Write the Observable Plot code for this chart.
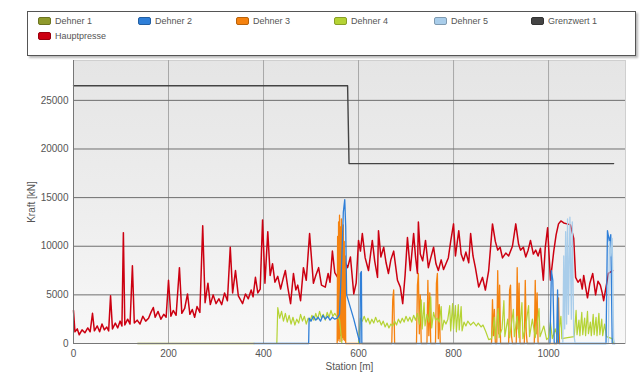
<!DOCTYPE html>
<html><head><meta charset="utf-8">
<script src="https://cdn.jsdelivr.net/npm/d3@7"></script>
<script src="https://cdn.jsdelivr.net/npm/@observablehq/plot@0.6"></script>
<style>
body{margin:0;background:#fff;font-family:"Liberation Sans",Arial,sans-serif;}
#wrap{position:relative;width:641px;height:379px;overflow:hidden;}
#legend{position:absolute;left:27px;top:11px;width:607px;height:43px;border:1.5px solid #555;box-shadow:2px 2px 2px #bbb;background:#fff;}
.item{position:absolute;display:flex;align-items:center;font-size:9px;color:#555;white-space:nowrap;}
.sw{width:13px;height:8px;border-radius:2px;margin-right:4px;box-sizing:border-box;}
#chart{position:absolute;left:0;top:58px;}
</style></head>
<body><div id="wrap"><div id="legend"></div><div id="chart"></div></div>
<script>
// ---- data ----
const seriesNames = ["Dehner 1","Dehner 2","Dehner 3","Dehner 4","Dehner 5","Grenzwert 1","Hauptpresse"];
const seriesColors = ["#8f9a2c","#2f7fd8","#f5820f","#b5d334","#a9cdea","#444444","#cc0011"];
const xTicks = [0,200,400,600,800,1000];
const yTicks = [0,5000,10000,15000,20000,25000];

const hauptpresse = [[0,3400],[3,1200],[8,1500],[12,900],[18,1400],[24,1100],[30,1600],[35,1200],[40,3100],[44,1300],[50,1800],[55,1200],[60,2000],[65,1400],[70,1700],[74,1300],[78,4900],[82,1500],[88,2100],[93,1600],[98,2300],[102,1800],[105,11400],[108,1900],[114,2500],[119,2000],[124,8000],[128,2100],[134,2400],[140,2000],[146,2800],[152,2300],[158,2600],[163,3200],[168,3700],[172,2700],[178,3300],[184,2500],[190,3000],[195,2700],[200,6500],[205,2800],[210,3400],[216,2900],[223,7800],[228,3100],[234,3600],[240,5100],[245,3000],[250,3500],[255,2700],[260,3800],[266,3200],[272,12100],[277,4200],[283,6200],[288,4000],[294,5000],[300,4100],[306,4600],[312,4000],[318,5200],[324,4400],[330,9900],[335,5200],[341,7500],[347,4900],[356,4100],[362,5100],[368,4600],[374,5500],[378,4800],[383,6800],[388,5200],[393,5600],[398,12700],[403,6200],[409,11500],[414,7000],[419,8200],[424,6300],[430,6900],[436,5600],[441,6600],[446,7500],[451,5800],[457,4100],[463,7200],[468,5500],[472,6000],[478,4400],[484,7800],[490,6500],[497,11300],[505,6200],[510,7000],[516,7800],[522,6000],[530,5800],[536,7200],[540,6300],[545,9500],[550,7300],[556,6800],[561,8200],[566,10300],[571,8400],[577,7800],[583,8900],[590,5100],[595,6200],[600,10600],[604,9500],[608,11300],[614,8800],[621,7500],[629,10600],[634,8500],[640,6800],[642,11600],[647,8900],[653,9900],[658,8300],[663,7200],[668,8600],[674,9500],[682,6500],[688,5800],[693,4100],[698,7000],[703,10900],[709,7500],[716,11300],[720,8900],[724,7200],[726,12500],[730,9200],[735,8500],[741,10600],[747,7800],[752,8800],[758,9900],[763,8200],[768,7500],[774,8600],[779,7600],[784,8200],[789,8800],[794,10500],[800,12300],[804,9000],[811,11600],[816,9200],[821,8500],[826,9400],[832,8300],[836,11300],[841,9000],[846,7800],[853,5800],[861,6800],[867,5500],[874,7500],[882,12300],[888,10500],[893,9600],[898,9900],[903,8800],[910,9300],[916,9000],[924,10000],[931,12300],[937,10200],[941,9600],[947,9900],[952,8900],[957,9600],[962,10600],[968,9200],[973,9600],[978,9000],[983,9800],[989,6500],[993,9800],[998,11900],[1004,6500],[1011,9500],[1016,11200],[1021,12300],[1026,12600],[1032,12400],[1039,12300],[1046,12200],[1053,10800],[1057,6800],[1062,6300],[1067,6600],[1071,5600],[1074,7000],[1078,5800],[1082,4700],[1087,6200],[1093,7200],[1099,5000],[1104,6400],[1109,6000],[1113,5200],[1116,4400],[1121,5800],[1126,7200],[1135,7500]];

const grenzwert1 = [[0,26500],[577,26500],[580,18500],[1137,18500]];

const dehner1 = [[135,0],[380,0]];

const dehner2 = [[380,0],[495,0],[496,2600],[500,2300],[505,2800],[510,2400],[515,2700],[520,2300],[525,2900],[530,2500],[535,2800],[540,2400],[545,2700],[550,2500],[555,2600],[560,3000],[565,9000],[568,13500],[571,14800],[573,12000],[575,5000],[590,2500],[603,0],[604,7200],[606,7400],[607,0],[1003,0],[1006,7500],[1009,6500],[1012,0],[1017,0],[1019,5500],[1021,0],[1121,0],[1124,11600],[1128,10500],[1131,11200],[1134,0],[1140,0]];

const dehner3 = [[555,0],[556,11000],[557,300],[558,12500],[559,500],[560,13200],[561,200],[562,12000],[563,800],[564,12800],[565,300],[566,11500],[567,600],[568,12200],[569,400],[570,10500],[571,300],[572,9000],[573,0],[670,0],[672,4500],[674,5500],[676,0],[722,0],[724,6000],[726,7200],[728,1000],[730,5000],[732,0],[744,0],[746,6500],[748,800],[750,5200],[752,0],[762,0],[764,6200],[766,7200],[768,500],[770,4000],[772,0],[880,0],[882,4500],[884,800],[886,3500],[888,0],[891,0],[893,7500],[895,1000],[897,6000],[899,0],[916,0],[918,5500],[920,6000],[922,800],[924,0],[932,0],[934,7800],[936,1500],[938,6200],[940,0],[949,0],[951,6500],[953,1200],[955,0],[970,0],[972,6500],[974,1000],[976,5200],[978,0],[1019,0],[1021,4700],[1023,0]];

const dehner4 = [[428,0],[430,3700],[434,2600],[438,3300],[442,2300],[446,3100],[450,2200],[454,2900],[458,2000],[462,2700],[466,1900],[470,2500],[474,2100],[478,3000],[482,2300],[486,2800],[490,2000],[494,2600],[498,2300],[502,2900],[506,2400],[510,3100],[514,2500],[518,3300],[522,2600],[526,3000],[530,2400],[534,3200],[538,2700],[542,3400],[546,2800],[550,3100],[555,2700],[560,2500],[565,0],[600,0],[604,2600],[608,2300],[612,2800],[616,2200],[620,2600],[624,2000],[628,2500],[632,2100],[636,2700],[640,2200],[644,2400],[648,1900],[652,2300],[656,1700],[660,2100],[664,1600],[668,2000],[672,1800],[676,2300],[680,1900],[684,2500],[688,2100],[692,2600],[696,2200],[700,2800],[704,2300],[708,2700],[712,2200],[716,2900],[720,2400],[724,3100],[728,2000],[732,4500],[734,1500],[738,4200],[740,1800],[744,3000],[748,2200],[752,4800],[754,1600],[758,3200],[762,2400],[766,2600],[770,2200],[774,3800],[776,1400],[780,2400],[784,2000],[788,2500],[792,3900],[794,1300],[798,4100],[800,1500],[804,3900],[806,1200],[810,4000],[812,1400],[816,3800],[818,1300],[822,2200],[826,1800],[830,2300],[836,1900],[842,2200],[848,1800],[852,2100],[858,1700],[862,1900],[868,1200],[874,400],[880,500],[886,2700],[888,500],[894,3600],[896,600],[902,1500],[906,4400],[908,700],[914,2500],[918,600],[926,3500],[928,700],[934,2800],[938,600],[944,4200],[946,500],[952,1800],[958,3900],[960,700],[966,2500],[972,600],[980,3600],[982,700],[990,1800],[996,400],[1000,600],[1004,2200],[1008,500],[1014,1500],[1020,400],[1026,2800],[1028,500],[1040,600],[1054,700],[1058,3400],[1060,900],[1064,2400],[1066,800],[1070,3200],[1072,900],[1076,2600],[1078,800],[1082,3300],[1084,1000],[1088,2200],[1090,800],[1094,3000],[1096,900],[1100,2700],[1102,800],[1106,3100],[1108,900],[1112,2500],[1114,800],[1118,2000],[1122,700],[1128,600],[1134,500],[1137,0]];

const dehner5 = [[1030,0],[1032,9000],[1034,1500],[1036,11500],[1038,2000],[1040,12800],[1042,3000],[1045,13000],[1048,2500],[1050,12500],[1053,1000],[1056,0],[1126,0],[1128,10500],[1131,9000],[1134,10800],[1137,500],[1139,0]];

// ---- legend ----
const legendPos = [[10,6],[110,6],[208,6],[306,6],[406,6],[503,6],[10,21]];
const leg = document.getElementById("legend");
seriesNames.forEach((n,i)=>{
  const it = document.createElement("div");
  it.className="item";
  it.style.left = legendPos[i][0]+"px";
  it.style.top = (legendPos[i][1]-2)+"px";
  const c = d3.color(seriesColors[i]);
  it.innerHTML = `<div class="sw" style="background:${seriesColors[i]};border:1px solid ${c.darker(0.8)}"></div><span>${n}</span>`;
  leg.appendChild(it);
});

// ---- chart ----
const toObj = a => a.map(([s,v])=>({s,v}));
const lineOpts = (i,w) => ({x:"s", y:"v", stroke: seriesColors[i], strokeWidth: w, curve:"linear"});

const svg = Plot.plot({
  width: 641, height: 321,
  marginTop: 2, marginLeft: 73, marginRight: 16, marginBottom: 36,
  style: {fontFamily: '"Liberation Sans", Arial, sans-serif', background: "transparent"},
  x: {domain: [0, 1162]},
  y: {domain: [0, 29100]},
  marks: [
    Plot.frame({fill: "#eeeeee", stroke: "#cfcfcf"}),
    Plot.gridX(xTicks.slice(1), {stroke: "#a8a8a8", strokeOpacity: 1}),
    Plot.gridY(yTicks.slice(1), {stroke: "#6f6f6f", strokeOpacity: 1, strokeWidth: 1}),
    Plot.line(toObj(hauptpresse), lineOpts(6, 1.5)),
    Plot.line(toObj(dehner3), lineOpts(2, 1.3)),
    Plot.line(toObj(dehner1), lineOpts(0, 1.3)),
    Plot.line(toObj(dehner4), lineOpts(3, 1.2)),
    Plot.line(toObj(dehner2), lineOpts(1, 1.3)),
    Plot.line(toObj(dehner5), lineOpts(4, 1.3)),
    Plot.line(toObj(grenzwert1), lineOpts(5, 1.4)),
    Plot.ruleX([0], {stroke: "#777"}),
    Plot.ruleY([0], {stroke: "#777"}),
    Plot.axisY(yTicks, {tickSize: 0, tickPadding: 5, tickFormat: d => String(d), fontSize: 10, fill: "#555", label: "Kraft [kN]", labelArrow: "none", labelAnchor: "center", labelOffset: 46}),
    Plot.axisX(xTicks, {tickSize: 0, tickPadding: 6, tickFormat: d => String(d), fontSize: 10, fill: "#555", label: "Station [m]", labelArrow: "none", labelAnchor: "center", labelOffset: 26})
  ]
});
// gradient background for plot area
const ns = "http://www.w3.org/2000/svg";
const defs = document.createElementNS(ns, "defs");
defs.innerHTML = '<linearGradient id="bg" x1="0" y1="0" x2="0" y2="1"><stop offset="0" stop-color="#e5e5e5"/><stop offset="0.55" stop-color="#eeeeee"/><stop offset="1" stop-color="#f8f8f8"/></linearGradient>';
svg.insertBefore(defs, svg.firstChild);
const fr = svg.querySelector('[aria-label="frame"]');
if (fr) { const r = fr.tagName === "rect" ? fr : fr.querySelector("rect"); if (r) r.setAttribute("fill", "url(#bg)"); }
document.getElementById("chart").appendChild(svg);
</script></body></html>
